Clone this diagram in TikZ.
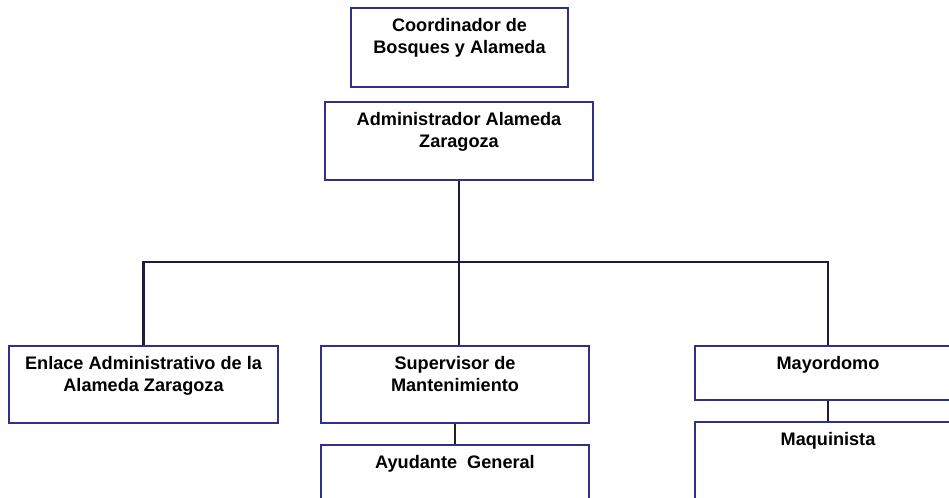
\documentclass[tikz,border=0pt]{standalone}
\usepackage{fontspec}
\setmainfont{Liberation Sans}

\definecolor{boxblue}{RGB}{46,49,140}
\definecolor{linenavy}{RGB}{28,28,62}

\begin{document}
\begin{tikzpicture}[x=0.75pt, y=-0.75pt,
  box/.style={draw=boxblue, line width=2.1pt, fill=white, inner sep=0pt},
  lbl/.style={anchor=north, yshift=-8.5pt, align=center, inner sep=0pt,
    font=\fontsize{13.6}{16.5}\selectfont\bfseries},
  conn/.style={draw=linenavy, line width=2pt}]
  % page and clipping
  \useasboundingbox (0,0) rectangle (949,497);
  \clip (0,0) rectangle (949,497);

  % boxes
  \node[box, minimum width=162.75pt, minimum height=59.25pt,
    label={[lbl]north:Coordinador de\\Bosques y Alameda}] (coord) at (459.5,47.5) {};
  \node[box, minimum width=201pt, minimum height=58.5pt,
    label={[lbl]north:Administrador Alameda\\Zaragoza}] (admin) at (459,141) {};
  \node[box, minimum width=201.75pt, minimum height=57.75pt,
    label={[lbl]north:Enlace Administrativo de la\\Alameda Zaragoza}] (enlace) at (143.5,384.5) {};
  \node[box, minimum width=201pt, minimum height=57.75pt,
    label={[lbl]north:Supervisor de\\Mantenimiento}] (super) at (455,384.5) {};
  \node[box, minimum width=199.5pt, minimum height=40.5pt,
    label={[lbl]north:Mayordomo}] (mayor) at (828,373) {};
  \node[box, minimum width=201pt, minimum height=57.75pt,
    label={[lbl]north:Ayudante\ \ General}] (ayud) at (455,483.5) {};
  \node[box, minimum width=199.5pt, minimum height=66pt,
    label={[lbl]north:Maquinista}] (maq) at (828,466) {};

  % connectors
  \coordinate (bus) at (459,262);
  \draw[conn] (admin.south) -- (bus);
  \draw[conn] (bus) -| (enlace.north);
  \draw[conn] (bus) -| (mayor.north);
  \draw[conn] (bus) -- (bus |- super.north);
  \draw[conn] (super.south) -- (ayud.north);
  \draw[conn] (mayor.south) -- (maq.north);
\end{tikzpicture}
\end{document}
